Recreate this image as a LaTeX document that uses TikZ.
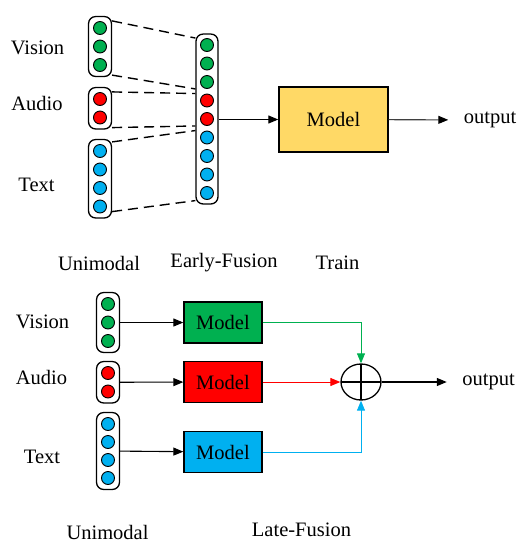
\documentclass[tikz,border=0pt]{standalone}
\usepackage{fontspec}
\setmainfont{Liberation Serif}
\usetikzlibrary{arrows.meta,fit,shapes.geometric}

\definecolor{vgreen}{HTML}{00B050}
\definecolor{ared}{HTML}{FF0000}
\definecolor{tblue}{HTML}{00B0F0}
\definecolor{gold}{HTML}{FFD966}
\definecolor{wire}{HTML}{3F3F3F}

\begin{document}
\begin{tikzpicture}[
  x=1pt,
  y=-1pt,
  every node/.style={font=\fontsize{20.5}{24}\selectfont},
  dot/.style={
    draw,
    circle,
    line width=0.9pt,
    minimum size=13pt,
    inner sep=0pt,
    fill=#1
  },
  col/.style={
    draw,
    rounded corners=7pt,
    line width=1.3pt,
    inner sep=4.5pt
  },
  model/.style={
    draw,
    line width=1.3pt,
    minimum width=78pt,
    minimum height=41pt,
    inner sep=0pt,
    fill=#1
  },
  fuse/.style={
    draw,
    ellipse,
    line width=1.3pt,
    minimum width=40pt,
    minimum height=36pt,
    inner sep=0pt,
    path picture={
      \draw[line width=1.3pt]
        (path picture bounding box.north) -- (path picture bounding box.south)
        (path picture bounding box.west) -- (path picture bounding box.east);
    }
  },
  arrow/.style={-{Triangle[length=10pt,width=8pt]}, line width=1.1pt},
  grayarrow/.style={-{Triangle[length=10pt,width=8pt,color=black]}, line width=1.1pt, draw=wire},
  link/.style={dashed, dash pattern=on 10pt off 6pt, line width=1.4pt}
]
\useasboundingbox (0,0) rectangle (531,550);

% early fusion
\node (tvis) at (37.5,48) {Vision};
\node (taud) at (37,103) {Audio};
\node (ttxt) at (36.5,185) {Text};

\node[dot=vgreen] (v1) at (100,28) {};
\node[dot=vgreen] (v2) at (100,46.5) {};
\node[dot=vgreen] (v3) at (100,65) {};
\node[dot=ared] (a1) at (100,99) {};
\node[dot=ared] (a2) at (100,117.5) {};
\node[dot=tblue] (t1) at (100,151) {};
\node[dot=tblue] (t2) at (100,169.5) {};
\node[dot=tblue] (t3) at (100,188) {};
\node[dot=tblue] (t4) at (100,206.5) {};
\node[col, fit=(v1)(v3)] (viscol) {};
\node[col, fit=(a1)(a2)] (audcol) {};
\node[col, fit=(t1)(t4)] (txtcol) {};

\foreach \i/\c in {1/vgreen,2/vgreen,3/vgreen,4/ared,5/ared,6/tblue,7/tblue,8/tblue,9/tblue}
  \node[dot=\c] (e\i) at (207,{45+18.5*(\i-1)}) {};
\node[col, inner sep=4pt, fit=(e1)(e9)] (early) {};

\draw[link] ([yshift=-5pt]viscol.north east) -- (early.west |- e1.north);
\draw[link] ([yshift=2pt]viscol.south east) -- (early.west |- e3.south);
\draw[link] ([yshift=-5pt]audcol.north east) -- (early.west |- e4.north);
\draw[link] ([yshift=2pt]audcol.south east) -- (early.west |- e5.south);
\draw[link] ([yshift=-3pt]txtcol.north east) -- (early.west |- e6.north);
\draw[link] ([yshift=7pt]txtcol.south east) -- ([yshift=4pt]early.south west);

\node[draw, line width=1.4pt, fill=gold, minimum width=109pt, minimum height=65pt, inner sep=0pt] (train) at (333.5,119.5) {Model};
\node (out1) at (490,120) {output};
\draw[grayarrow, draw=black] (early.east |- train) -- (train);
\draw[grayarrow, shorten >=12pt] (train) -- (out1);

\node (lb1) at (99,263) {Unimodal};
\node (lb2) at (224,263) {Early-Fusion};
\node (lb3) at (337.5,263) {Train};

% late fusion
\node (bvis) at (42.5,322) {Vision};
\node (baud) at (41.5,377) {Audio};
\node (btxt) at (42,457) {Text};

\node[dot=vgreen] (bv1) at (108,304) {};
\node[dot=vgreen] (bv2) at (108,322.5) {};
\node[dot=vgreen] (bv3) at (108,341) {};
\node[dot=ared] (ba1) at (108,373) {};
\node[dot=ared] (ba2) at (108,391.5) {};
\node[dot=tblue] (bt1) at (108,424) {};
\node[dot=tblue] (bt2) at (108,442) {};
\node[dot=tblue] (bt3) at (108,460) {};
\node[dot=tblue] (bt4) at (108,478) {};
\node[col, fit=(bv1)(bv3)] (bviscol) {};
\node[col, fit=(ba1)(ba2)] (baudcol) {};
\node[col, fit=(bt1)(bt4)] (btxtcol) {};

\node[model=vgreen] (gm) at (223,322.5) {Model};
\node[model=ared] (rm) at (223,382) {Model};
\node[model=tblue] (bm) at (223,452) {Model};

\draw[arrow] (bviscol) -- (gm);
\draw[arrow] (baudcol) -- (rm);
\draw[arrow] (btxtcol) -- (bm);

\node[fuse] (sum) at (361,382) {};
\node (out2) at (488.5,382) {output};

\draw[arrow, draw=vgreen, line width=1pt] (gm) -| (sum);
\draw[arrow, draw=ared, line width=1pt] (rm) -- (sum);
\draw[arrow, draw=tblue, line width=1pt] (bm) -| (sum);
\draw[arrow, line width=1.3pt, shorten >=12pt] (sum) -- (out2);

\node (lb4) at (107.5,532) {Unimodal};
\node (lb5) at (301.5,530) {Late-Fusion};
\end{tikzpicture}
\end{document}
